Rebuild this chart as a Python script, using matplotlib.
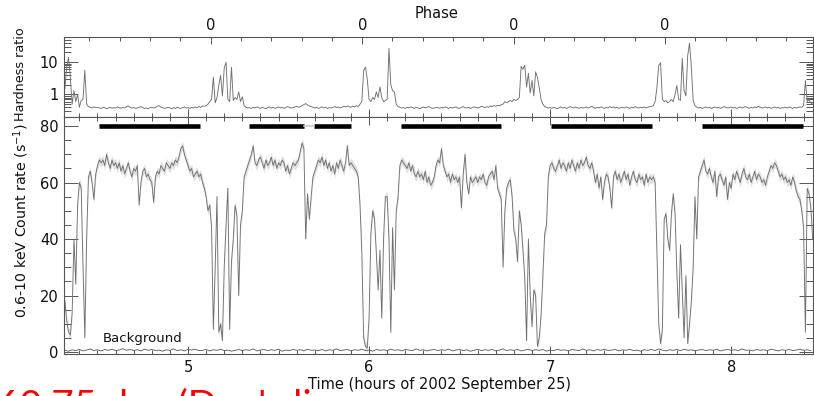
import numpy as np
import matplotlib
matplotlib.use('Agg')
import matplotlib.pyplot as plt
from matplotlib.ticker import FixedLocator, MultipleLocator, NullFormatter, LogLocator

# 0.6-10 keV count rate, 0.01 h bins starting at 4.32 h
rate = [
    18, 11, 7, 6, 14, 40, 24, 52,
    60, 58, 30, 5, 40, 62, 64, 60, 54, 63,
    66, 68, 67, 68, 66, 70, 67, 65, 68, 66,
    67, 65, 67, 64, 66, 63, 65, 67, 64, 62,
    65, 64, 66, 52, 60, 64, 65, 62, 63, 61,
    60, 53, 62, 64, 63, 66, 65, 64, 67, 66,
    65, 67, 66, 68, 67, 69, 72, 73, 70, 68,
    66, 64, 65, 62, 63, 64, 62, 63, 60, 58,
    55, 50, 52, 44, 8, 30, 55, 7, 10, 4,
    30, 45, 58, 8, 32, 40, 52, 48, 20, 45,
    50, 62, 64, 66, 68, 70, 73, 67, 66, 68,
    69, 67, 65, 68, 66, 67, 69, 66, 68, 65,
    67, 66, 68, 67, 64, 66, 63, 65, 67, 66,
    67, 68, 71, 74, 72, 40, 56, 47, 55, 62,
    64, 66, 68, 67, 69, 66, 68, 65, 67, 64,
    66, 63, 67, 65, 68, 66, 64, 67, 73, 66,
    67, 66, 65, 64, 62, 52, 35, 5, 2, 1.5,
    12, 42, 50, 47, 35, 22, 36, 12, 40, 55,
    55, 40, 7, 44, 22, 50, 55, 66, 68, 67,
    66, 65, 67, 64, 66, 63, 62, 64, 62, 63,
    61, 64, 60, 62, 59, 60, 62, 66, 68, 67,
    72, 66, 64, 62, 63, 60, 63, 61, 62, 60,
    62, 51, 63, 70, 60, 56, 62, 60, 61, 62,
    60, 62, 61, 63, 60, 59, 62, 63, 64, 61,
    66, 58, 56, 54, 30, 50, 58, 60, 61, 55,
    43, 40, 32, 50, 45, 36, 26, 4, 40, 20,
    9, 22, 20, 2, 5, 13, 27, 42, 45, 62,
    66, 67, 65, 64, 66, 68, 65, 67, 66, 64,
    67, 65, 68, 66, 64, 67, 65, 68, 66, 67,
    69, 66, 65, 67, 64, 60, 63, 58, 62, 54,
    60, 63, 62, 58, 51, 62, 64, 61, 63, 60,
    62, 64, 61, 63, 59, 62, 64, 61, 60, 63,
    61, 62, 59, 63, 60, 62, 61, 62, 60, 35,
    10, 3, 8, 47, 49, 40, 36, 49, 56, 49,
    28, 12, 38, 21, 5, 27, 3, 10, 18, 30,
    55, 40, 62, 64, 66, 68, 64, 63, 65, 62,
    60, 64, 55, 62, 63, 61, 59, 62, 54, 60,
    58, 63, 61, 64, 62, 60, 63, 65, 62, 61,
    63, 60, 62, 64, 61, 63, 62, 60, 61, 59,
    62, 64, 66, 65, 67, 66, 64, 62, 63, 61,
    62, 60, 61, 59, 62, 60, 57, 55, 54, 50,
    44, 7, 58, 56, 51, 40,
]

# hardness ratio, same bins
hardness = [
    1.5, 7, 14, 3.4, 0.5, 1.3, 0.6, 1.0,
    0.40, 0.65, 0.7, 5.6, 0.5, 0.42, 0.40, 0.38, 0.41, 0.39,
    0.40, 0.38, 0.37, 0.40, 0.39, 0.36, 0.38, 0.40, 0.37, 0.39,
    0.38, 0.41, 0.39, 0.37, 0.40, 0.38, 0.42, 0.44, 0.40, 0.38,
    0.39, 0.37, 0.38, 0.40, 0.42, 0.39, 0.37, 0.38, 0.36, 0.39,
    0.40, 0.38, 0.39, 0.43, 0.45, 0.41, 0.39, 0.37, 0.38, 0.40,
    0.38, 0.36, 0.39, 0.37, 0.40, 0.38, 0.37, 0.39, 0.41, 0.38,
    0.39, 0.37, 0.40, 0.38, 0.41, 0.39, 0.42, 0.40, 0.44, 0.43,
    0.45, 0.5, 0.6, 0.7, 3.4, 0.55, 0.8, 1.9, 3.9, 0.9,
    6.5, 10, 0.7, 0.6, 7, 0.65, 0.8, 0.7, 1.2, 0.6,
    0.85, 0.45, 0.40, 0.38, 0.39, 0.37, 0.40, 0.38, 0.41, 0.39,
    0.37, 0.40, 0.38, 0.36, 0.39, 0.41, 0.38, 0.40, 0.37, 0.39,
    0.41, 0.38, 0.40, 0.37, 0.39, 0.42, 0.40, 0.38, 0.39, 0.41,
    0.43, 0.40, 0.42, 0.45, 0.48, 0.52, 0.47, 0.44, 0.42, 0.40,
    0.38, 0.40, 0.37, 0.39, 0.41, 0.38, 0.40, 0.37, 0.39, 0.38,
    0.40, 0.42, 0.39, 0.41, 0.38, 0.40, 0.43, 0.41, 0.44, 0.42,
    0.40, 0.43, 0.41, 0.45, 0.42, 0.5, 0.6, 5.5, 7, 3,
    0.7, 0.6, 0.8, 0.7, 1.2, 0.8, 1.7, 0.8, 0.6, 0.65,
    0.7, 27, 2, 1.3, 1.2, 0.5, 0.42, 0.40, 0.38, 0.39,
    0.37, 0.40, 0.38, 0.41, 0.39, 0.37, 0.40, 0.38, 0.36, 0.39,
    0.41, 0.38, 0.40, 0.42, 0.39, 0.37, 0.38, 0.40, 0.39, 0.37,
    0.40, 0.38, 0.41, 0.39, 0.37, 0.40, 0.38, 0.39, 0.41, 0.38,
    0.37, 0.40, 0.42, 0.39, 0.38, 0.40, 0.37, 0.39, 0.41, 0.40,
    0.38, 0.40, 0.43, 0.41, 0.39, 0.42, 0.40, 0.44, 0.42, 0.45,
    0.43, 0.46, 0.44, 0.48, 0.5, 0.6, 0.55, 0.6, 0.65, 0.6,
    0.7, 0.65, 0.7, 0.8, 7.5, 6, 8, 1.7, 4.5, 1.1,
    2.7, 0.9, 5, 3.4, 1.6, 0.7, 0.5, 0.42, 0.40, 0.38,
    0.39, 0.37, 0.40, 0.38, 0.36, 0.39, 0.41, 0.38, 0.40, 0.37,
    0.39, 0.42, 0.40, 0.38, 0.41, 0.39, 0.37, 0.40, 0.38, 0.39,
    0.41, 0.38, 0.40, 0.43, 0.39, 0.37, 0.40, 0.38, 0.41, 0.39,
    0.37, 0.40, 0.38, 0.42, 0.39, 0.41, 0.38, 0.40, 0.37, 0.39,
    0.40, 0.38, 0.41, 0.39, 0.37, 0.40, 0.38, 0.42, 0.39, 0.38,
    0.40, 0.39, 0.41, 0.38, 0.40, 0.42, 0.42, 0.45, 0.6, 1.65,
    8, 9.5, 0.7, 0.6, 0.65, 0.55, 0.6, 0.7, 0.6, 1.0,
    1.9, 0.7, 0.65, 13, 1.3, 0.9, 16, 39, 7, 0.65,
    0.45, 0.40, 0.38, 0.40, 0.37, 0.39, 0.41, 0.38, 0.40, 0.37,
    0.39, 0.41, 0.38, 0.40, 0.37, 0.39, 0.42, 0.40, 0.38, 0.39,
    0.41, 0.38, 0.40, 0.37, 0.39, 0.41, 0.38, 0.40, 0.42, 0.39,
    0.37, 0.40, 0.38, 0.41, 0.39, 0.43, 0.40, 0.38, 0.39, 0.41,
    0.38, 0.40, 0.37, 0.39, 0.41, 0.38, 0.40, 0.37, 0.39, 0.38,
    0.40, 0.38, 0.41, 0.39, 0.37, 0.40, 0.38, 0.39, 0.41, 0.40,
    0.45, 2.7, 0.6, 0.7, 0.55, 0.5,
]

# background rate, 0.02 h bins starting at 4.32 h
background = [
    0.6, 0.3, 0.8, 0.5, 0.9, 0.4, 0.7, 1.1, 0.5, 0.8,
    0.4, 0.9, 0.6, 1.0, 0.5, 0.7, 1.2, 0.6, 0.9, 0.5,
    0.8, 0.4, 1.0, 0.6, 0.9, 0.5, 0.7, 0.3, 0.8, 0.6,
    1.1, 0.5, 0.8, 0.4, 0.9, 0.7, 1.0, 0.5, 0.6, 0.9,
    0.4, 0.8, 0.6, 1.0, 0.5, 0.7, 0.3, 0.6, 0.9, 0.5,
    0.8, 0.6, 1.1, 0.4, 0.7, 0.9, 0.5, 0.8, 0.6, 1.0,
    0.3, 0.7, 0.5, 0.9, 0.6, 0.8, 0.4, 1.0, 0.6, 0.7,
    0.5, 0.9, 0.4, 0.8, 0.6, 1.1, 0.5, 0.7, 0.9, 0.4,
    0.8, 0.6, 1.0, 0.5, 0.7, 0.3, 0.9, 0.6, 0.8, 0.5,
    1.0, 0.6, 0.8, 0.4, 0.9, 0.7, 0.5, 1.1, 0.6, 0.8,
    0.4, 0.7, 0.9, 0.5, 0.8, 0.6, 1.0, 0.4, 0.7, 0.9,
    0.5, 0.8, 0.3, 0.6, 1.0, 0.5, 0.8, 0.6, 0.9, 0.4,
    0.7, 1.1, 0.5, 0.8, 0.6, 0.9, 0.4, 0.7, 1.0, 0.5,
    0.8, 0.6, 0.9, 0.3, 0.7, 0.5, 1.0, 0.6, 0.8, 0.4,
    0.9, 0.7, 0.5, 1.1, 0.6, 0.8, 0.4, 0.9, 0.6, 1.0,
    0.5, 0.7, 0.9, 0.4, 0.8, 0.6, 1.0, 0.5, 0.7, 0.3,
    0.8, 0.6, 0.9, 0.5, 1.1, 0.7, 0.4, 0.8, 0.6, 0.9,
    0.5, 1.0, 0.6, 0.8, 0.4, 0.7, 0.9, 0.5, 0.8, 0.6,
    1.0, 0.4, 0.7, 0.9, 0.6, 0.8, 0.5, 1.1, 0.6, 0.7,
    0.4, 0.9, 0.6, 0.8, 0.5, 1.0, 0.7, 0.4, 0.8, 0.6,
    0.9, 0.5, 0.7, 1.0, 0.6, 0.8, 0.5,
]

# black bars (hours)
bar_start = [4.51, 5.337, 5.696, 6.175, 7.004, 7.838]
bar_end = [5.066, 5.643, 5.900, 6.729, 7.562, 8.396]

# phase zero times and period (hours)
phase_zero = [5.125, 5.962, 6.799, 7.635]
period = 0.8366

time = 4.32 + 0.01 * np.arange(len(rate))
time_bg = 4.32 + 0.02 * np.arange(len(background))
rate = np.array(rate, dtype=float)

W, H = 814, 396
fig = plt.figure(figsize=(W / 100, H / 100), dpi=100)
fig.patch.set_facecolor('white')

# slide caption underneath, mostly cut off by the bottom edge
fig.text(-3 / W, 1 - 388 / H, "60.75 day (Dan's li", color='red', fontsize=28,
         family=['Lato', 'DejaVu Sans'], ha='left', va='top', zorder=0)

L, R = 64, 813
ax_hr = fig.add_axes([L / W, 1 - 117 / H, (R - L) / W, 80 / H])
ax_cr = fig.add_axes([L / W, 1 - 354 / H, (R - L) / W, 237 / H])

xlim = (4.315, 8.452)
for ax in (ax_hr, ax_cr):
    ax.set_xlim(*xlim)
    for s in ax.spines.values():
        s.set_color('#555555')
        s.set_linewidth(0.8)
    ax.tick_params(which='both', direction='in', colors='#555555',
                   labelcolor='#111111', labelsize=10.5, width=0.7)

# hardness panel
ax_hr.plot(time, hardness, color='#707070', lw=0.65)
ax_hr.set_yscale('log')
ax_hr.set_ylim(0.2, 60)
ax_hr.yaxis.set_major_locator(FixedLocator([1, 10]))
ax_hr.set_yticklabels(['1', '10'])
ax_hr.yaxis.set_minor_locator(LogLocator(base=10, subs=np.arange(2, 10)))
ax_hr.yaxis.set_minor_formatter(NullFormatter())
ax_hr.tick_params(axis='y', which='major', length=10, right=True, pad=4)
ax_hr.tick_params(axis='y', which='minor', length=5, right=True)
ax_hr.xaxis.set_major_locator(MultipleLocator(1))
ax_hr.xaxis.set_minor_locator(MultipleLocator(0.1))
ax_hr.tick_params(axis='x', which='major', length=6, labelbottom=False, top=False)
ax_hr.tick_params(axis='x', which='minor', length=3, top=False)

# phase axis on top
ax_ph = ax_hr.twiny()
ax_ph.set_xlim(*xlim)
ax_ph.xaxis.set_major_locator(FixedLocator(phase_zero))
ax_ph.set_xticklabels(['0'] * len(phase_zero))
ph_minor = [phase_zero[0] + period * k / 5.0 for k in range(-5, 21)]
ax_ph.xaxis.set_minor_locator(FixedLocator(ph_minor))
ax_ph.tick_params(axis='x', which='major', direction='in', length=5, pad=3,
                  colors='#555555', labelcolor='#111111', labelsize=10.5, width=0.7)
ax_ph.tick_params(axis='x', which='minor', direction='in', length=3,
                  colors='#555555', width=0.7)
for s in ax_ph.spines.values():
    s.set_visible(False)
fig.text(437 / W, 1 - 13 / H, 'Phase', ha='center', va='center', fontsize=10.5,
         color='#111111')

# count rate panel
ax_cr.fill_between(time, rate - 1.6, rate + 1.6, color='#e0e0e0', lw=0)
ax_cr.plot(time, rate, color='#707070', lw=0.65)
ax_cr.plot(time_bg, background, color='#555555', lw=0.6)
for s0, s1 in zip(bar_start, bar_end):
    ax_cr.plot([s0, s1], [80, 80], color='black', lw=3.3, solid_capstyle='butt')
ax_cr.plot([bar_end[1], bar_start[2]], [80, 80], color='#cccccc', lw=1.2)
ax_cr.set_ylim(-0.7, 83.2)
ax_cr.yaxis.set_major_locator(MultipleLocator(20))
ax_cr.yaxis.set_minor_locator(MultipleLocator(5))
ax_cr.tick_params(axis='y', which='major', length=10, right=True, pad=4)
ax_cr.tick_params(axis='y', which='minor', length=5, right=True)
ax_cr.xaxis.set_major_locator(MultipleLocator(1))
ax_cr.xaxis.set_minor_locator(MultipleLocator(0.1))
ax_cr.tick_params(axis='x', which='major', length=6, top=True, pad=4)
ax_cr.tick_params(axis='x', which='minor', length=3, top=True)
ax_cr.text(4.53, 2.5, 'Background', fontsize=9.5, color='#111111', va='bottom')

fig.text(440 / W, 1 - 384 / H, 'Time (hours of 2002 September 25)', ha='center',
         va='center', fontsize=10.5, color='#111111')
fig.text(21 / W, 1 - 74 / H, 'Hardness ratio', rotation=90, ha='center',
         va='center', fontsize=9.2, color='#111111')
fig.text(21 / W, 1 - 221 / H, '0.6-10 keV Count rate (s$^{-1}$)', rotation=90,
         ha='center', va='center', fontsize=10.2, color='#111111')

fig.savefig('out.png', dpi=100, facecolor='white')
